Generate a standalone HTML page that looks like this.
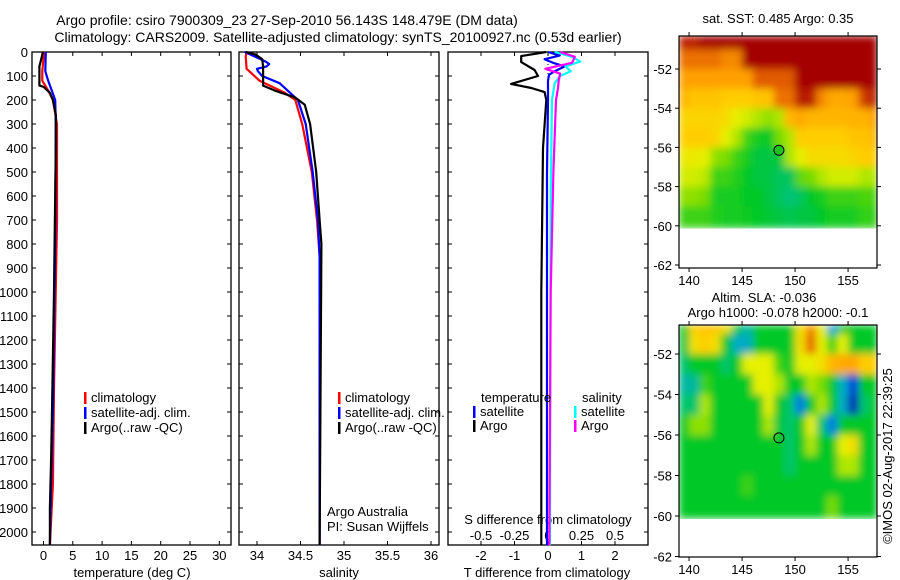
<!DOCTYPE html>
<html><head><meta charset="utf-8">
<style>
html,body{margin:0;padding:0;background:#fff;}
svg{display:block;font-family:"Liberation Sans",sans-serif;}
text{font-size:13px;fill:#000;}
</style></head>
<body>
<svg id="fig" width="900" height="580" viewBox="0 0 900 580" xmlns="http://www.w3.org/2000/svg">
<defs>
<clipPath id="clipMap1"><rect x="679" y="36" width="198" height="232"/></clipPath>
<clipPath id="clipMap2"><rect x="679" y="325" width="198" height="232"/></clipPath>
<filter id="smooth" x="0" y="0" width="1" height="1"><feGaussianBlur stdDeviation="4" edgeMode="duplicate"/></filter>
</defs>
<text x="287" y="25" text-anchor="middle" style="font-size:14px">Argo profile: csiro 7900309_23 27-Sep-2010 56.143S 148.479E (DM data)</text>
<text x="338" y="42" text-anchor="middle" style="font-size:14px">Climatology: CARS2009. Satellite-adjusted climatology: synTS_20100927.nc (0.53d earlier)</text>
<g id="g"></g>
</svg>
<script>
// ---- profile data ----
const tDepth = [0,30,60,140,145,170,200,260,400,1000,1500,1700,1900,2055];
const tArgo  = [-0.1,-0.4,-0.7,-0.7,0,1.1,1.6,2.1,2.1,1.8,1.45,1.3,1.1,1.1];
const tClimDepth = [0,80,120,160,200,300,700,1400,1800,2055];
const tClim = [0.1,-0.2,-0.2,0.8,1.6,2.3,2.3,1.8,1.6,1.1];
const tSatDepth = [0,80,120,160,200,300,800,1500,1800,2055];
const tSat = [0.4,0.3,0.8,1.4,2.0,2.1,2.0,1.6,1.3,1.1];

const sArgoDepth = [0,10,30,60,140,160,190,220,300,500,700,800,2055];
const sArgo = [33.87,33.98,34.06,34.07,34.07,34.2,34.44,34.55,34.61,34.68,34.72,34.74,34.72];
const sClimDepth = [0,20,70,120,170,200,300,500,700,850,2055];
const sClim = [33.88,33.87,33.88,34.03,34.32,34.44,34.52,34.63,34.69,34.72,34.72];
const sSatDepth = [0,20,40,50,60,70,80,100,130,170,200,300,500,700,850,2055];
const sSat = [33.86,33.98,34.1,34.14,34.11,34.0,34.01,34.06,34.26,34.38,34.47,34.56,34.64,34.7,34.72,34.72];

const dTArgoDepth = [0,17,42,75,100,133,150,167,200,400,1000,2055];
const dTArgo = [-0.05,-0.8,-0.8,-0.4,-0.3,-1.1,-0.5,-0.1,-0.05,-0.15,-0.2,-0.2];
const dTSatDepth = [0,15,30,45,60,80,95,120,200,500,2055];
const dTSat = [0,0.35,-0.1,0.15,0.5,0.2,0.03,0,0,-0.03,-0.03];
const dSSatDepth = [0,20,40,60,80,100,130,200,600,2055];
const dSSat = [0.05,0.18,0.24,0.13,0.17,0.09,0.05,0.03,0.02,0.015];
const dSArgoDepth = [0,20,45,70,90,120,150,200,500,1000,2055];
const dSArgo = [0.09,0.2,0.18,-0.02,0.09,0.08,0.075,0.06,0.04,0.02,0.01];

const depthTicks = [0,100,200,300,400,500,600,700,800,900,1000,1100,1200,1300,1400,1500,1600,1700,1800,1900,2000];
const tempTicks = [0,5,10,15,20,25,30];
const salTicks = [34,34.5,35,35.5,36];
const dTTicks = [-2,-1,0,1,2];
const dSTicks = [-0.5,-0.25,0,0.25,0.5];
const lonTicks = [140,145,150,155];
const latTicks = [-52,-54,-56,-58,-60,-62];

// ---- map data (1-degree cells, lon 139..157, rows from north to south) ----
const sstLats = [-50.5,-51.5,-52.5,-53.5,-54.5,-55.5,-56.5,-57.5,-58.5,-59.5];
const sstGrid = [
[0.95,0.95,1,1,1,1,1,1,1,1,1,1,1,1,1,1,1,1,1],
[0.8,0.8,0.8,0.8,0.75,0.75,1,1,1,1,1,1,1,1,1,1,1,1,1],
[0.7,0.7,0.7,0.7,0.7,0.7,0.7,0.85,0.85,0.85,0.85,1,1,1,1,1,1,1,1],
[0.65,0.62,0.62,0.62,0.6,0.6,0.6,0.62,0.62,0.8,0.8,0.95,0.95,0.75,0.68,0.68,0.7,0.9,0.95],
[0.58,0.58,0.58,0.58,0.56,0.5,0.48,0.45,0.42,0.45,0.65,0.68,0.65,0.65,0.65,0.65,0.66,0.66,0.7],
[0.6,0.6,0.6,0.58,0.5,0.45,0.35,0.32,0.3,0.4,0.45,0.6,0.6,0.6,0.6,0.6,0.62,0.62,0.65],
[0.52,0.52,0.5,0.42,0.4,0.35,0.32,0.28,0.28,0.28,0.45,0.5,0.56,0.56,0.56,0.56,0.58,0.6,0.6],
[0.48,0.48,0.46,0.35,0.35,0.33,0.3,0.28,0.28,0.26,0.26,0.38,0.4,0.45,0.48,0.48,0.48,0.45,0.45],
[0.42,0.42,0.4,0.32,0.32,0.32,0.3,0.3,0.28,0.26,0.24,0.26,0.3,0.32,0.35,0.35,0.35,0.36,0.36],
[0.35,0.35,0.35,0.33,0.32,0.32,0.31,0.3,0.29,0.28,0.27,0.28,0.28,0.3,0.32,0.32,0.32,0.34,0.34]];
const slaLats = [-50.5,-51.5,-52.5,-53.5,-54.5,-55.5,-56.5,-57.5,-58.5,-59.5];
const slaGrid = [
[0.3,0.6,0.62,0.62,0.55,0.3,0.22,0.3,0.3,0.3,0.3,0.55,0.75,0.5,0.18,0.3,0.3,0.3,0.3],
[0.28,0.55,0.6,0.55,0.3,0.2,0.2,0.3,0.3,0.3,0.3,0.55,0.82,0.5,0.35,0.5,0.3,0.3,0.3],
[0.25,0.3,0.3,0.3,0.25,0.3,0.5,0.5,0.5,0.35,0.3,0.5,0.5,0.55,0.65,0.68,0.68,0.6,0.6],
[0.22,0.22,0.35,0.3,0.3,0.3,0.3,0.5,0.5,0.45,0.3,0.3,0.45,0.4,0.3,0.2,0.1,0.3,0.3],
[0.25,0.25,0.45,0.3,0.3,0.3,0.3,0.3,0.5,0.3,0.25,0.15,0.3,0.45,0.3,0.2,0.05,0.25,0.3],
[0.3,0.42,0.42,0.3,0.3,0.3,0.3,0.3,0.45,0.28,0.25,0.3,0.5,0.25,0.15,0.3,0.3,0.3,0.3],
[0.3,0.3,0.3,0.3,0.3,0.3,0.3,0.3,0.3,0.3,0.25,0.3,0.45,0.3,0.3,0.5,0.55,0.3,0.3],
[0.3,0.3,0.3,0.3,0.3,0.3,0.3,0.3,0.3,0.3,0.25,0.3,0.3,0.3,0.3,0.45,0.45,0.3,0.3],
[0.3,0.3,0.3,0.3,0.3,0.3,0.35,0.3,0.3,0.3,0.3,0.3,0.3,0.3,0.3,0.3,0.3,0.3,0.3],
[0.3,0.3,0.3,0.3,0.3,0.3,0.3,0.3,0.3,0.3,0.3,0.3,0.3,0.3,0.4,0.3,0.3,0.3,0.3]];
const argoLon = 148.479, argoLat = -56.143;

const NS='http://www.w3.org/2000/svg';
const G=document.getElementById('g');
function el(tag,attrs,parent){const e=document.createElementNS(NS,tag);for(const k in attrs)e.setAttribute(k,attrs[k]);(parent||G).appendChild(e);return e;}
function txt(s,x,y,anchor,parent){const t=el('text',{x:x,y:y,'text-anchor':anchor||'start'},parent);t.textContent=s;return t;}

const TOP=52, BOT=545;
const yD=d=>52+d*0.24;
const xT=v=>43.5+v*5.86;
const xS=v=>257+(v-34)*87;
const xDT=v=>548+v*33.5;
const xDS=v=>548+v*134;
const panels=[{x0:32,x1:231,name:'temperature-panel'},{x0:239,x1:439,name:'salinity-panel'},{x0:448,x1:648,name:'difference-panel'}];

panels.forEach((p,i)=>{
  const r=el('rect',{x:p.x0,y:TOP,width:p.x1-p.x0,height:BOT-TOP,fill:'none',stroke:'#000','stroke-width':1.3});
  
  
  depthTicks.forEach(d=>{
    el('line',{x1:p.x0,x2:p.x0+4,y1:yD(d),y2:yD(d),stroke:'#000'});
    el('line',{x1:p.x1-4,x2:p.x1,y1:yD(d),y2:yD(d),stroke:'#000'});
  });
});
depthTicks.forEach(d=>{
  const t=txt(String(d),28,yD(d)+5,'end');
  
  
});
function xticks(ticks,fx,yLab){
  ticks.forEach(v=>{
    const x=fx(v);
    el('line',{x1:x,x2:x,y1:BOT-4,y2:BOT,stroke:'#000'});
    el('line',{x1:x,x2:x,y1:TOP,y2:TOP+4,stroke:'#000'});
    const t=txt(String(v),x,yLab,'middle');
    
    
  });
}
xticks(tempTicks,xT,560);
xticks(salTicks,xS,560);
xticks(dTTicks,xDT,560);
dSTicks.forEach(v=>{
  const t=txt(String(v),xDS(v),540,'middle');
  
  
});
let a=txt('temperature (deg C)',132,577,'middle');
a=txt('salinity',339,577,'middle');
a=txt('T difference from climatology',547,577,'middle');
a=txt('S difference from climatology',548,524,'middle');

function line(depths,vals,fx,color,name,w){
  const pts=depths.map((d,i)=>fx(vals[i]).toFixed(1)+','+yD(d).toFixed(1)).join(' ');
  const pl=el('polyline',{points:pts,fill:'none',stroke:color,'stroke-width':w||2.2,'stroke-linejoin':'round'});
  
  
}
line(tClimDepth,tClim,xT,'#f00','temp-climatology-line');
line(tSatDepth,tSat,xT,'#00f','temp-satellite-line');
line(tDepth,tArgo,xT,'#000','temp-argo-line');
line(sClimDepth,sClim,xS,'#f00','salinity-climatology-line');
line(sSatDepth,sSat,xS,'#00f','salinity-satellite-line');
line(sArgoDepth,sArgo,xS,'#000','salinity-argo-line');
el('line',{x1:548,x2:548,y1:TOP,y2:yD(200),stroke:'#000','stroke-dasharray':'1,2','stroke-width':1});
line(dTArgoDepth,dTArgo,xDT,'#000','t-diff-argo-line');
line(dTSatDepth,dTSat,xDT,'#00f','t-diff-satellite-line');
line(dSSatDepth,dSSat,xDS,'#0ff','s-diff-satellite-line');
line(dSArgoDepth,dSArgo,xDS,'#f0f','s-diff-argo-line');

function legItem(x,y,color,label,name){
  const g=el('g',{});
  
  
  el('rect',{x:x,y:y-10,width:2.5,height:12,fill:color},g);
  txt(label,x+7,y,'start',g);
}
[[84,'temp'],[338,'salinity']].forEach(([x,n])=>{
  legItem(x,402,'#f00','climatology',n+'-legend-climatology');
  legItem(x,417,'#00f','satellite-adj. clim.',n+'-legend-satellite');
  legItem(x,432,'#000','Argo(..raw -QC)',n+'-legend-argo');
});
a=txt('temperature',481,402);
a=txt('salinity',582,402);
legItem(473,416,'#00f','satellite','diff-legend-t-satellite');
legItem(473,430,'#000','Argo','diff-legend-t-argo');
legItem(574,416,'#0ff','satellite','diff-legend-s-satellite');
legItem(574,430,'#f0f','Argo','diff-legend-s-argo');
a=txt('Argo Australia',327,516);
a=txt('PI: Susan Wijffels',327,531);

const stops=[[0,[0,0,140]],[0.1,[0,60,220]],[0.18,[0,160,230]],[0.24,[0,195,120]],[0.3,[0,200,40]],[0.4,[120,220,0]],[0.5,[230,240,0]],[0.6,[255,205,0]],[0.7,[255,160,0]],[0.85,[225,90,0]],[1,[165,0,0]]];
function cmap(v){
  for(let i=1;i<stops.length;i++){if(v<=stops[i][0]){const [a0,c0]=stops[i-1],[a1,c1]=stops[i];const f=(v-a0)/(a1-a0);return 'rgb('+c0.map((c,k)=>Math.round(c+(c1[k]-c)*f)).join(',')+')';}}
  return 'rgb(165,0,0)';
}
function drawMap(cfg){
  const xL=lon=>cfg.x0+(lon-cfg.lon0)*cfg.pxLon;
  const yL=lat=>cfg.yRef+(cfg.latRef-lat)*cfg.pxLat;
  const cg=el('g',{'clip-path':'url(#'+cfg.clip+')'});
  const fg=el('g',{filter:'url(#smooth)'},cg);
  
  
  const yBottom=yL(-60.1);
  const ncol=cfg.grid[0].length;
  cfg.lats.forEach((lat,r)=>{
    cfg.grid[r].forEach((v,c)=>{
      const lon=139+c;
      const x0=c===0?cfg.x0:xL(lon);
      const x1=c===ncol-1?cfg.x0+198:xL(lon+1);
      const y0=r===0?cfg.y0:yL(lat+0.5);
      const y1=r===cfg.lats.length-1?yBottom:yL(lat-0.5);
      const cell=el('rect',{x:x0,y:y0,width:x1-x0+0.5,height:y1-y0+0.5,fill:cmap(v)},fg);
      
      
    });
  });
  const fr=el('rect',{x:cfg.x0,y:cfg.y0,width:198,height:cfg.h,fill:'none',stroke:'#000','stroke-width':1.2});
  
  
  lonTicks.forEach(lon=>{
    const x=xL(lon);
    el('line',{x1:x,x2:x,y1:cfg.y0+cfg.h,y2:cfg.y0+cfg.h+4,stroke:'#000'});
    el('line',{x1:x,x2:x,y1:cfg.y0-4,y2:cfg.y0,stroke:'#000'});
    const t=txt(String(lon),x,cfg.y0+cfg.h+17,'middle');
    
    
  });
  latTicks.forEach(lat=>{
    const y=yL(lat);
    el('line',{x1:cfg.x0-4,x2:cfg.x0,y1:y,y2:y,stroke:'#000'});
    el('line',{x1:cfg.x0+198,x2:cfg.x0+202,y1:y,y2:y,stroke:'#000'});
    const t=txt(String(lat),672,y+5,'end');
    
    
  });
  const m=el('circle',{cx:xL(argoLon),cy:yL(argoLat),r:5,fill:cfg.markerFill,stroke:'#000','stroke-width':1});
  
  
}
drawMap({name:'sst-map',clip:'clipMap1',grid:sstGrid,lats:sstLats,x0:679,y0:36,h:232,lon0:139.05,pxLon:10.6,yRef:69,latRef:-52,pxLat:19.6,markerFill:'#1cc41c'});
drawMap({name:'sla-map',clip:'clipMap2',grid:slaGrid,lats:slaLats,x0:679,y0:325,h:232,lon0:139.05,pxLon:10.6,yRef:354,latRef:-52,pxLat:20.25,markerFill:'none'});
a=txt('sat. SST: 0.485 Argo: 0.35',778,23,'middle');
a=txt('Altim. SLA: -0.036',764,302,'middle');
a=txt('Argo h1000: -0.078 h2000: -0.1',778,317,'middle');
a=txt('©IMOS 02-Aug-2017 22:39:25',0,0,'middle');
a.setAttribute('transform','translate(892,456) rotate(-90)');


</script>
</body></html>
